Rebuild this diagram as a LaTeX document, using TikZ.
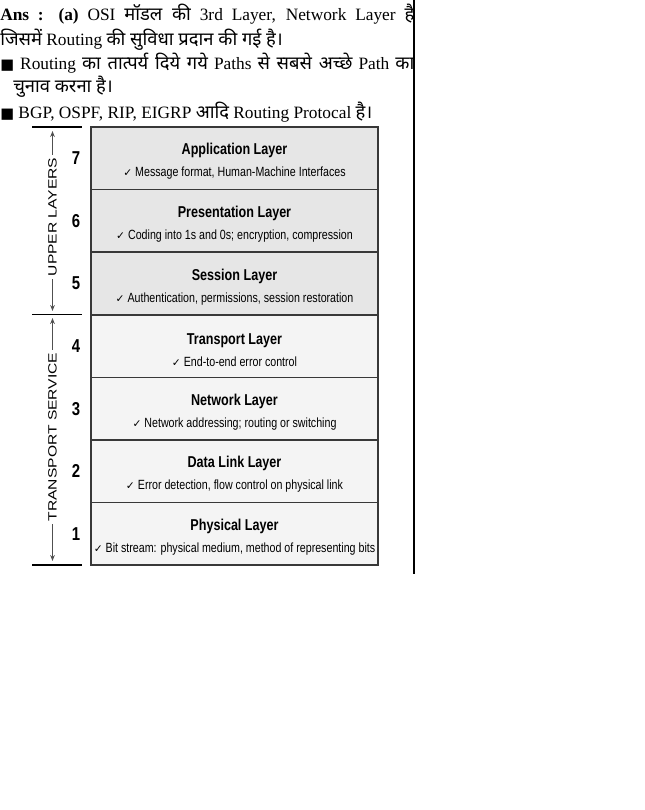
\documentclass[tikz,border=0pt]{standalone}
\usepackage{fontspec}
\setmainfont{Liberation Serif}
\newfontfamily\hin[Script=Devanagari,Scale=1.06]{Noto Sans}
\newfontfamily\narrowsf[FakeStretch=0.8]{Liberation Sans}
\newfontfamily\widesf[FakeStretch=1.3]{Liberation Sans}
\newfontfamily\symb{DejaVu Sans}
\usetikzlibrary{positioning, arrows.meta}

\definecolor{upperfill}{HTML}{E6E6E6}
\definecolor{lowerfill}{HTML}{F4F4F4}
\definecolor{boxline}{HTML}{383838}
\definecolor{arrowgray}{HTML}{505050}

\newcommand{\bodyfont}{\fontsize{13}{15}\selectfont}
\newcommand{\titlefont}{\narrowsf\bfseries\fontsize{11.8}{13}\selectfont}
\newcommand{\descfont}{\narrowsf\fontsize{10}{11}\selectfont}
\newcommand{\numfont}{\narrowsf\bfseries\fontsize{14}{15}\selectfont}
\newcommand{\sidefont}{\widesf\fontsize{9}{10}\selectfont}
\newcommand{\tick}{{\symb\fontsize{8}{9}\selectfont ✓}}
\newcommand{\blk}{{\symb\fontsize{11}{12}\selectfont ■}}

\begin{document}
\begin{tikzpicture}[x=0.75pt, y=-0.75pt,
  layerbox/.style={draw=boxline, line width=1.2pt, minimum width=215.25pt,
    minimum height=46.95pt, inner sep=0pt, outer sep=0pt, align=center},
  laynum/.style={font=\numfont, inner sep=0pt},
  sidelabel/.style={font=\sidefont, rotate=90, fill=white, inner sep=2pt},
  border/.style={line width=1.3pt},
  span/.style={draw=arrowgray, line width=0.6pt, -{Stealth[length=4.5pt, width=3.5pt]}},
  textline/.style={anchor=base west, inner sep=0pt, font=\bodyfont}]
  \useasboundingbox (0,0) rectangle (645,810);

  % Answer text above the layer stack
  \node[textline] (ans) at (0,21) {\makebox[310.5pt][s]{\textbf{Ans : (a)} OSI {\hin मॉडल की} 3rd Layer, Network Layer {\hin है}}};
  \node[textline] (ansb) at (0,45) {{\hin जिसमें} Routing {\hin की सुविधा प्रदान की गई है।}};
  \node[textline] (routing) at (0,69) {\makebox[310.5pt][s]{\blk{} Routing {\hin का तात्पर्य दिये गये} Paths {\hin से सबसे अच्छे} Path {\hin का}}};
  \node[textline] (routingb) at (13,92) {{\hin चुनाव करना है।}};
  \node[textline] (protocols) at (0,118) {\blk{} BGP, OSPF, RIP, EIGRP {\hin आदि} Routing Protocal {\hin है।}};

  % The seven layers
  \foreach \n/\name/\desc/\shade in {
      7/Application Layer/{Message format, Human-Machine Interfaces}/upperfill,
      6/Presentation Layer/{Coding into 1s and 0s; encryption, compression}/upperfill,
      5/Session Layer/{Authentication, permissions, session restoration}/upperfill,
      4/Transport Layer/{End-to-end error control}/lowerfill,
      3/Network Layer/{Network addressing; routing or switching}/lowerfill,
      2/Data Link Layer/{Error detection, flow control on physical link}/lowerfill,
      1/Physical Layer/{Bit stream: physical medium, method of representing bits}/lowerfill} {
    \node[layerbox, fill=\shade] (layer\n) at (234.5, {127+(7-\n)*62.6+31.3})
      {{\titlefont\rule{0pt}{13.5pt}\name}\\[4.5pt]{\descfont\tick{} \desc}};
    \node[laynum] (num\n) at (76, {127+(7-\n)*62.6+31.3}) {\n};
  }

  % Left brackets
  \draw[border] (32,127) -- (82,127);
  \draw[border] (32,314.5) -- (82,314.5);
  \draw[border] (32,565) -- (82,565);

  \node[sidelabel] (upper) at (52.5,217) {UPPER LAYERS};
  \coordinate (upperTop) at (52.5,131);
  \coordinate (upperBot) at (52.5,311);
  \draw[span] (upper.east) -- (upperTop);
  \draw[span] (upper.west) -- (upperBot);

  \node[sidelabel] (transport) at (52.5,437) {TRANSPORT SERVICE};
  \coordinate (transTop) at (52.5,318);
  \coordinate (transBot) at (52.5,561);
  \draw[span] (transport.east) -- (transTop);
  \draw[span] (transport.west) -- (transBot);

  % column rule
  \draw[line width=1.1pt] (414,0) -- (414,574);
\end{tikzpicture}
\end{document}
